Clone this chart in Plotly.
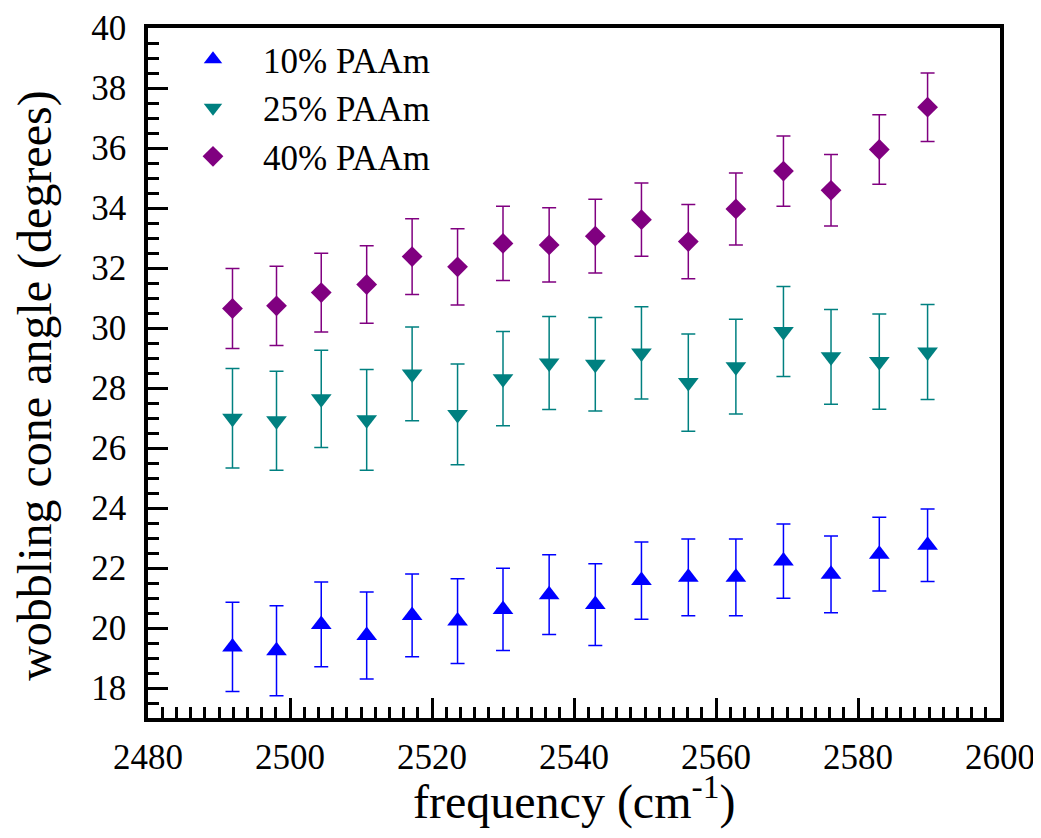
import plotly.graph_objects as go

freq = [2491.9, 2498.1, 2504.4, 2510.8, 2517.2, 2523.6, 2530.0, 2536.5,
        2543.0, 2549.5, 2556.1, 2562.8, 2569.5, 2576.2, 2583.0, 2589.8]

paam10 = [19.37, 19.24, 20.12, 19.75, 20.42, 20.23, 20.62, 21.11,
          20.78, 21.58, 21.69, 21.69, 22.23, 21.79, 22.46, 22.76]
paam10_err = [1.49, 1.50, 1.41, 1.45, 1.38, 1.41, 1.37, 1.33,
              1.36, 1.29, 1.28, 1.28, 1.24, 1.28, 1.23, 1.21]

paam25 = [26.99, 26.91, 27.64, 26.94, 28.47, 27.12, 28.31, 28.83,
          28.79, 29.17, 28.18, 28.71, 29.88, 29.04, 28.88, 29.20]
paam25_err = [1.66, 1.65, 1.62, 1.68, 1.56, 1.68, 1.57, 1.55,
              1.56, 1.54, 1.62, 1.58, 1.50, 1.58, 1.59, 1.58]

paam40 = [30.65, 30.74, 31.18, 31.45, 32.38, 32.04, 32.82, 32.77,
          33.06, 33.61, 32.88, 33.97, 35.23, 34.59, 35.95, 37.36]
paam40_err = [1.33, 1.32, 1.31, 1.29, 1.26, 1.27, 1.24, 1.24,
              1.23, 1.22, 1.24, 1.20, 1.17, 1.19, 1.16, 1.14]

series_names = ["10% PAAm", "25% PAAm", "40% PAAm"]
colors = ["#0000FF", "#008080", "#800080"]
symbols = ["triangle-up", "triangle-down", "diamond"]
sizes = [18, 18, 16]

FONT = "'Liberation Serif', 'Times New Roman', Times, serif"

fig = go.Figure()
for name, y, err, c, s, sz in zip(series_names, [paam10, paam25, paam40],
                                  [paam10_err, paam25_err, paam40_err],
                                  colors, symbols, sizes):
    fig.add_trace(go.Scatter(
        x=freq, y=y, mode="markers", name=name,
        marker=dict(symbol=s, size=sz, color=c, line=dict(width=0)),
        error_y=dict(type="data", array=err, visible=True, color=c,
                     thickness=1.5, width=7),
    ))

axis_common = dict(
    showline=True, linecolor="black", linewidth=3.5, mirror=True,
    ticks="inside", tickcolor="black", tickwidth=3, ticklen=20,
    showgrid=False, zeroline=False, automargin=False,
    tickfont=dict(family=FONT, size=35, color="black"),
)

fig.update_xaxes(range=[2480, 2600], dtick=20, tick0=2480,
                 minor=dict(dtick=2, ticks="inside", ticklen=11, tickwidth=3,
                            tickcolor="black", showgrid=False),
                 ticklabelstandoff=5, **axis_common)
fig.update_yaxes(range=[17, 40], dtick=2, tick0=18,
                 minor=dict(dtick=0.5, ticks="inside", ticklen=11, tickwidth=3,
                            tickcolor="black", showgrid=False),
                 ticklabelstandoff=11, **axis_common)

fig.update_layout(
    template="none",
    width=1033, height=830,
    margin=dict(l=140, r=41, t=20, b=120),
    paper_bgcolor="white", plot_bgcolor="white",
    font=dict(family=FONT, color="black"),
    showlegend=True,
    legend=dict(x=0.0176, y=0.997, xanchor="left", yanchor="top",
                bgcolor="rgba(0,0,0,0)", itemwidth=90,
                font=dict(family=FONT, size=35, color="black"),
                tracegroupgap=0),
    annotations=[
        dict(text="frequency (cm<sup>-1</sup>)", xref="paper", yref="paper",
             x=0.5, y=-0.116, xanchor="center", yanchor="middle",
             showarrow=False, font=dict(family=FONT, size=48, color="black")),
        dict(text="wobbling cone angle (degrees)", xref="paper", yref="paper",
             x=-0.133, y=0.481, xanchor="center", yanchor="middle",
             textangle=-90, showarrow=False,
             font=dict(family=FONT, size=48, color="black")),
    ],
)

fig.write_html("out.html")
